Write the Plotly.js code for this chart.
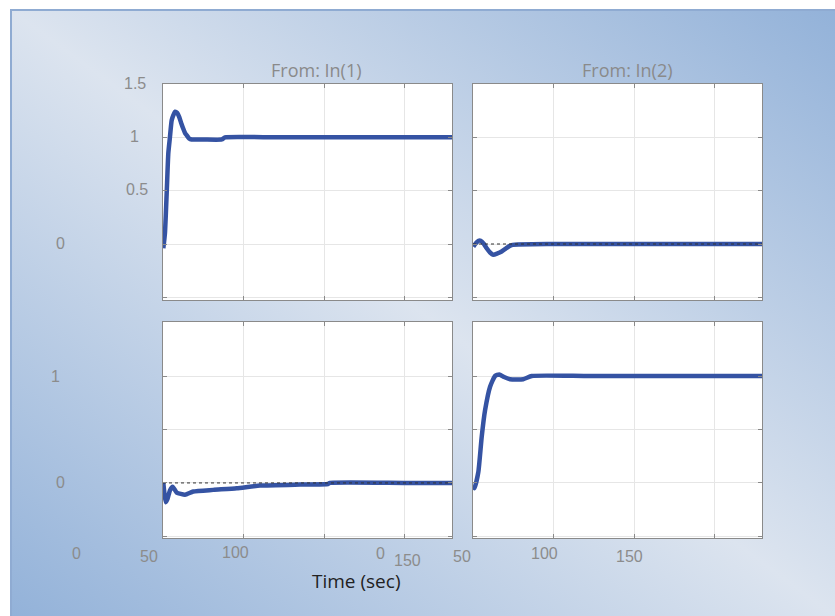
<!DOCTYPE html>
<html>
<head>
<meta charset="utf-8">
<script src="https://cdn.plot.ly/plotly-3.0.1.min.js"></script>
<style>
  html, body { margin: 0; padding: 0; background: #ffffff; }
  #wrap { position: relative; width: 835px; height: 616px; overflow: hidden; }
  #bg {
    position: absolute; left: 10px; top: 9px; width: 823px; height: 605px;
    border-top: 2px solid #8fabd2; border-left: 2px solid #8fabd2;
    background: linear-gradient(to top right, #93b2d9 0%, #dce4ef 50%, #93b2d9 100%);
  }
  #chart { position: absolute; left: 0; top: 0; width: 835px; height: 616px; }
</style>
</head>
<body>
<div id="wrap"><div id="bg"></div><div id="chart"></div></div>
<script>
// ---- data (time in sec, response amplitude) ----
const t_in1_out1 = [50.2, 51.2, 52.3, 53.3, 54.3, 55.4, 56.5, 57.5, 58.8, 60.1, 61.4, 62.6, 63.7, 64.7, 66.2, 67.8, 75, 86.5, 88.5, 120, 160, 200, 229.5];
const y_in1_out1 = [-0.04, 0.1, 0.48, 0.85, 1.0, 1.16, 1.21, 1.24, 1.23, 1.19, 1.13, 1.08, 1.04, 1.02, 0.99, 0.98, 0.98, 0.98, 1.0, 1.0, 1.0, 1.0, 1.0];

const t_in2_out1 = [50.2, 51.9, 53.4, 54.8, 56.8, 58.5, 60.6, 62.6, 64.9, 67.8, 70.5, 74.0, 100, 150, 200, 229.5];
const y_in2_out1 = [-0.025, 0.01, 0.03, 0.03, 0.0, -0.04, -0.08, -0.1, -0.09, -0.07, -0.04, -0.01, 0, 0, 0, 0];

const t_in1_out2 = [50.2, 50.9, 51.7, 52.8, 54.3, 56.0, 58.5, 63.7, 68.8, 81.2, 95.8, 110.2, 135.1, 152.5, 153.7, 200, 229.5];
const y_in1_out2 = [0, -0.1, -0.18, -0.15, -0.07, -0.035, -0.09, -0.11, -0.08, -0.065, -0.05, -0.025, -0.015, -0.01, 0, 0, 0];

const t_in2_out2 = [50.2, 50.9, 53.3, 55.4, 57.5, 60.6, 63.7, 66.3, 69.3, 73.0, 81.2, 86.5, 120, 160, 200, 229.5];
const y_in2_out2 = [-0.03, -0.05, 0.1, 0.43, 0.68, 0.9, 1.0, 1.015, 0.99, 0.97, 0.97, 1.0, 1.0, 1.0, 1.0, 1.0];

const t_ref = [50, 229.5];
const y_ref0 = [0, 0];

const colTitles = ['From: In(1)', 'From: In(2)'];
const xLabel = 'Time (sec)';
const yTickTextTop = ['1.5', '1', '0.5', '0'];
const yTickValTop = [1.5, 1, 0.5, 0];
const yTickTextBot = ['1', '0'];
const yTickValBot = [1, 0];
const xTickText = ['0', '50', '100', '0', '150', '50', '100', '150'];

// ---- layout helpers ----
const W = 835, H = 616;
const px = x => x / W;
const py = y => 1 - y / H;

const lineStyle = { color: '#3553a3', width: 4.5, shape: 'spline', smoothing: 0.5 };
const refStyle = { color: '#333333', width: 1, dash: 'dot' };

const traces = [
  { x: t_in1_out1, y: y_in1_out1, xaxis: 'x', yaxis: 'y', mode: 'lines', line: lineStyle },
  { x: t_in2_out1, y: y_in2_out1, xaxis: 'x2', yaxis: 'y2', mode: 'lines', line: lineStyle },
  { x: t_ref, y: y_ref0, xaxis: 'x2', yaxis: 'y2', mode: 'lines', line: refStyle },
  { x: t_in1_out2, y: y_in1_out2, xaxis: 'x3', yaxis: 'y3', mode: 'lines', line: lineStyle },
  { x: t_ref, y: y_ref0, xaxis: 'x3', yaxis: 'y3', mode: 'lines', line: refStyle },
  { x: t_in2_out2, y: y_in2_out2, xaxis: 'x4', yaxis: 'y4', mode: 'lines', line: lineStyle }
];

function xa(dom, anchor) {
  return {
    domain: dom, anchor: anchor, range: [50, 229.5], tick0: 50, dtick: 50,
    showticklabels: false, ticks: 'inside', ticklen: 4, tickcolor: '#8a8a8a',
    showline: true, mirror: 'ticks', linecolor: '#8a8a8a', linewidth: 1,
    showgrid: true, gridcolor: '#e6e6e6', gridwidth: 1, zeroline: false, fixedrange: true
  };
}
function ya(dom, anchor, rng) {
  return {
    domain: dom, anchor: anchor, range: rng, tick0: 0, dtick: 0.5,
    showticklabels: false, ticks: 'inside', ticklen: 4, tickcolor: '#8a8a8a',
    showline: true, mirror: 'ticks', linecolor: '#8a8a8a', linewidth: 1,
    showgrid: true, gridcolor: '#e6e6e6', gridwidth: 1, zeroline: false, fixedrange: true
  };
}

const dxL = [px(163), px(452)], dxR = [px(473), px(762)];
const dyT = [py(300), py(84)], dyB = [py(538), py(322)];

const tickFont = { family: 'Liberation Sans, Arial, sans-serif', size: 16, color: '#8c8c8c' };
const annotations = [];

// column titles
const titleX = [316, 627];
colTitles.forEach((t, i) => annotations.push({
  text: t, xref: 'paper', yref: 'paper', x: px(titleX[i]), y: py(70),
  xanchor: 'center', yanchor: 'middle', showarrow: false,
  font: { family: 'Open Sans, sans-serif', size: 18, color: '#8a8a8a' }
}));

// y tick labels (top row)
const yLabXTop = [134.5, 134.5, 136.5, 60];
yTickTextTop.forEach((t, i) => annotations.push({
  text: t, xref: 'paper', yref: 'y', x: px(yLabXTop[i]), y: yTickValTop[i],
  xanchor: 'center', yanchor: 'middle', showarrow: false, font: tickFont, yshift: 1
}));
// y tick labels (bottom row)
const yLabXBot = [55, 60];
yTickTextBot.forEach((t, i) => annotations.push({
  text: t, xref: 'paper', yref: 'y3', x: px(yLabXBot[i]), y: yTickValBot[i],
  xanchor: 'center', yanchor: 'middle', showarrow: false, font: tickFont
}));
// x tick labels
const xLabPos = [[76, 553], [149, 556], [236, 552], [380, 553], [407, 560], [462, 556], [544, 553], [629, 556]];
xTickText.forEach((t, i) => annotations.push({
  text: t, xref: 'paper', yref: 'paper', x: px(xLabPos[i][0]), y: py(xLabPos[i][1]),
  xanchor: 'center', yanchor: 'middle', showarrow: false, font: tickFont
}));
// x axis title
annotations.push({
  text: xLabel, xref: 'paper', yref: 'paper', x: px(356.5), y: py(581),
  xanchor: 'center', yanchor: 'middle', showarrow: false,
  font: { family: 'Open Sans, sans-serif', size: 19, color: '#222222' }
});

const layout = {
  width: W, height: H, margin: { l: 0, r: 0, t: 0, b: 0 },
  paper_bgcolor: 'rgba(0,0,0,0)', plot_bgcolor: '#ffffff', showlegend: false,
  xaxis: xa(dxL, 'y'), yaxis: ya(dyT, 'x', [-0.525, 1.5]),
  xaxis2: xa(dxR, 'y2'), yaxis2: ya(dyT, 'x2', [-0.525, 1.5]),
  xaxis3: xa(dxL, 'y3'), yaxis3: ya(dyB, 'x3', [-0.515, 1.505]),
  xaxis4: xa(dxR, 'y4'), yaxis4: ya(dyB, 'x4', [-0.515, 1.505]),
  annotations: annotations
};

Plotly.newPlot('chart', traces, layout, { displayModeBar: false, staticPlot: true });
</script>
</body>
</html>
